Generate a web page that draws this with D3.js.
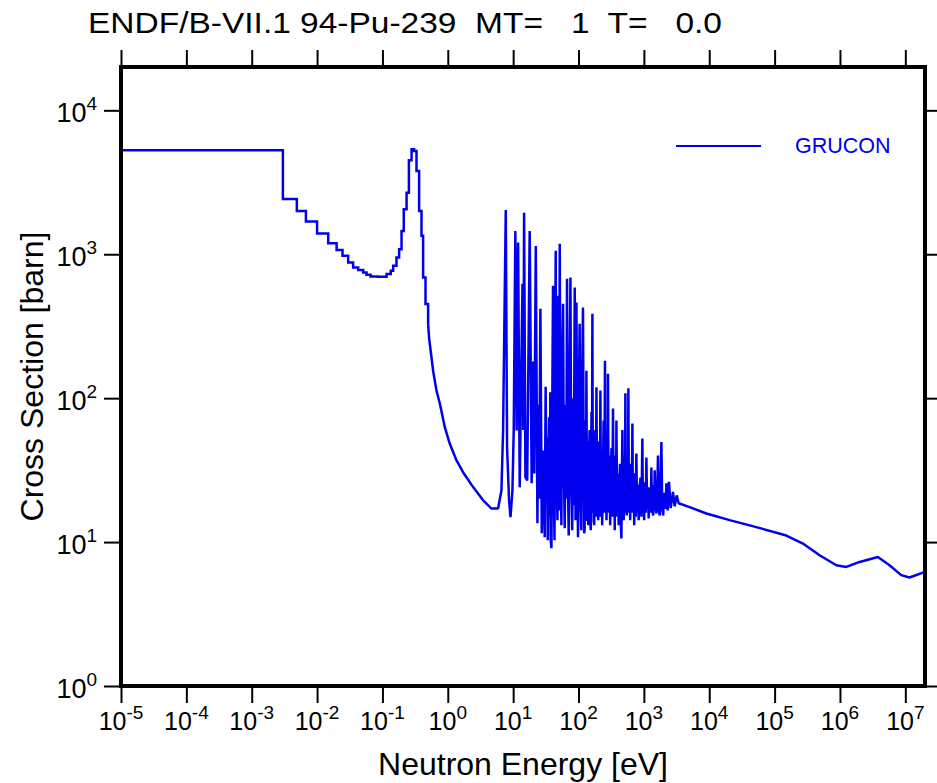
<!DOCTYPE html>
<html>
<head>
<meta charset="utf-8">
<script src="https://cdn.jsdelivr.net/npm/d3@7"></script>
<style>
  body { margin: 0; background: #fff; }
  text { font-family: "Liberation Sans", Arial, sans-serif; }
</style>
</head>
<body>
<div id="chart"></div>
<script>
// chart texts
var titleText = "ENDF/B-VII.1 94-Pu-239  MT=   1  T=   0.0";
var xTitle = "Neutron Energy [eV]";
var yTitle = "Cross Section [barn]";
var seriesName = "GRUCON";

// tick exponents (decades)
var xExponents = [-5, -4, -3, -2, -1, 0, 1, 2, 3, 4, 5, 6, 7];
var yExponents = [0, 1, 2, 3, 4];

// thermal group structure: group lower edge [eV] and cross section [barn]
var groupEnergy = [1e-5, 3.0e-3, 4.9e-3, 6.75e-3, 1.0e-2, 1.48e-2, 1.99e-2, 2.45e-2, 2.99e-2,
  3.56e-2, 4.25e-2, 5.07e-2, 5.71e-2, 6.58e-2, 8.5e-2, 0.1156, 0.134, 0.146, 0.164, 0.180,
  0.196, 0.212, 0.234, 0.254, 0.279, 0.305, 0.332, 0.364, 0.396, 0.419, 0.456, 0.5];
var groupXS = [5270, 2420, 2000, 1686, 1392, 1194, 1072, 975, 876, 809, 776, 747, 720, 700,
  697, 728, 767, 831, 949, 1085, 1453, 2055, 2680, 4495, 5355, 5213, 3787, 2000, 1342, 689,
  451, 327];

// resolved resonance and fast region [eV], [barn]
var resEnergy = [
  0.5, 0.518, 0.596, 0.671, 0.755, 0.90, 1.07, 1.36, 1.71, 2.44,
  3.47, 4.66, 5.88, 6.62, 7.01, 7.71, 8.07, 8.65, 9.10, 9.75,
  10.2, 10.8, 11.3, 11.9, 12.6, 13.9, 14.3, 14.7, 15.4, 16.4,
  17.9, 19.2, 20.3, 21.0, 22.2, 23.5, 24.3, 25.0, 26.1, 27.4,
  28.8, 30.4, 31.4, 32.3, 33.0, 33.8, 35.4, 36.4, 37.0, 37.5,
  38.5, 40.7, 41.8, 42.9, 43.8, 44.8, 46.0, 47.6, 49.3, 50.4,
  51.6, 53.0, 54.7, 56.0, 58.0, 59.5, 61.5, 63.5, 65.0, 66.7,
  68.5, 70.8, 73.0, 75.2, 77.5, 80.1, 82.5, 84.5, 87.5, 90.0,
  92.9, 95.5, 98.2, 101, 104, 107, 110, 113, 117, 120,
  122, 124, 126, 128, 130, 132, 134, 136, 138, 141,
  144, 148, 151, 154, 156, 158, 160, 163, 165, 168,
  171, 174, 177, 181, 184, 188, 191, 194, 197, 200,
  204, 208, 212, 216, 219, 223, 226, 230, 236, 242,
  248, 254, 257, 261, 264, 268, 271, 275, 278, 282,
  287, 293, 299, 305, 312, 320, 328, 337, 342, 347,
  352, 358, 363, 369, 374, 380, 388, 396, 404, 412,
  422, 432, 442, 453, 461, 469, 475, 480, 485, 491,
  498, 505, 513, 521, 527, 533, 540, 546, 554, 562,
  570, 579, 588, 597, 607, 617, 628, 640, 653, 667,
  678, 690, 700, 711, 724, 738, 752, 767, 783, 800,
  816, 832, 860, 890, 918, 948, 964, 980, 995, 1010,
  1030, 1050, 1070, 1092, 1115, 1140, 1160, 1183, 1210, 1240,
  1270, 1303, 1320, 1340, 1387, 1420, 1440, 1462, 1510, 1560,
  1600, 1644, 1690, 1746, 1800, 1853, 1910, 1974, 2030, 2090,
  2150, 2208, 2312, 2421, 2570, 2786, 2958, 3175, 3404, 5012,
  9036, 20500, 52500, 151000, 271000, 488000, 878000, 1.25e6, 2.0e6, 3.8e6,
  5.73e6, 8.65e6, 1.16e7, 2e7];
var resXS = [
  327, 260, 155, 113, 91.8, 62.9, 48.4, 36.9, 30.6, 24.1,
  19.5, 17.1, 17.1, 22.9, 59.6, 2032, 45.7, 19.5, 14.9, 22.9,
  59.6, 1453, 59.6, 1205, 24.0, 623, 60, 1946, 28.3, 26.8,
  1453, 25.6, 180, 30, 1143, 13.5, 90, 20, 418, 11.5,
  43.3, 10.8, 120, 20, 53.6, 10.3, 73.7, 15, 110, 10.3,
  9.06, 604, 25, 10.3, 200, 1056, 30, 14.2, 515, 16.6,
  1181, 40, 13.1, 150, 453, 35, 12.5, 90, 20, 675,
  30, 11.1, 130, 689, 25, 12.1, 100, 18, 588, 14.2,
  462, 40, 10.8, 90, 329, 20, 12.1, 110, 427, 30,
  11.5, 12.1, 45, 70, 14, 155, 30, 20, 50, 13.1,
  35, 60, 14, 12.1, 40, 80, 16, 386, 40, 25,
  14, 13.1, 45, 60, 15, 119, 30, 20, 45, 14.2,
  35, 50, 15, 113, 30, 18, 40, 13.1, 30, 70,
  16, 182, 30, 20, 40, 14.2, 35, 60, 16, 148,
  30, 18, 40, 13.1, 30, 45, 15, 84.7, 25, 16,
  35, 12.1, 28, 40, 15, 70, 22, 16, 30, 13.1,
  25, 35, 14, 10.6, 30, 60, 20, 18, 30, 14.2,
  25, 40, 16, 108, 25, 18, 28, 15.3, 26, 35,
  16, 117, 24, 17, 30, 14.2, 25, 35, 16, 66.7,
  22, 16, 26, 13.1, 24, 30, 15, 41.3, 20, 16,
  25, 14.2, 24, 28, 15, 52.5, 20, 16, 24, 14.2,
  22, 26, 16, 38.7, 20, 17, 24, 14.6, 22, 24,
  16, 33.0, 20, 17, 15.3, 25, 17, 31.5, 17, 15.8,
  22, 40.0, 17, 15.3, 24, 49.5, 17, 15.3, 22, 21,
  17, 25.6, 16.6, 26.2, 17.2, 22.3, 17.7, 21.1, 18.6, 17.5,
  15.8, 14.2, 12.7, 11.1, 9.77, 8.10, 6.90, 6.72, 7.28, 7.88,
  6.90, 5.89, 5.67, 6.21];

var svgWidth = 937;
var svgHeight = 783;
var margin = { top: 67, right: 12, bottom: 97, left: 121 };
var width = svgWidth - margin.left - margin.right;
var height = svgHeight - margin.top - margin.bottom;
var lineColor = "#0000ee";

var svg = d3.select("#chart")
  .append("svg")
  .attr("width", svgWidth)
  .attr("height", svgHeight);

var chartGroup = svg.append("g")
  .attr("transform", `translate(${margin.left}, ${margin.top})`);

var xScale = d3.scaleLog().domain([1e-5, 2e7]).range([0, width]);
var yScale = d3.scaleLog().domain([1, 2e4]).range([height, 0]);

var xTicks = xExponents.map(p => Math.pow(10, p));
var yTicks = yExponents.map(p => Math.pow(10, p));

// axes, all ticks point outward
function styleAxis(g) {
  g.select(".domain").remove();
  g.selectAll(".tick line").attr("stroke", "#000").attr("stroke-width", 2);
  g.selectAll(".tick text").remove();
}

chartGroup.append("g")
  .attr("transform", `translate(0, ${height})`)
  .call(d3.axisBottom(xScale).tickValues(xTicks).tickSize(17).tickSizeOuter(0))
  .call(styleAxis);
chartGroup.append("g")
  .call(d3.axisTop(xScale).tickValues(xTicks).tickSize(17).tickSizeOuter(0))
  .call(styleAxis);
chartGroup.append("g")
  .call(d3.axisLeft(yScale).tickValues(yTicks).tickSize(17).tickSizeOuter(0))
  .call(styleAxis);
chartGroup.append("g")
  .attr("transform", `translate(${width}, 0)`)
  .call(d3.axisRight(yScale).tickValues(yTicks).tickSize(17).tickSizeOuter(0))
  .call(styleAxis);

// tick labels with superscript exponents
xExponents.forEach(function(p) {
  var t = chartGroup.append("text")
    .attr("x", xScale(Math.pow(10, p)))
    .attr("y", height + 44)
    .attr("text-anchor", "middle")
    .style("font-size", "25px");
  t.append("tspan").text("10");
  t.append("tspan").attr("dy", -11).style("font-size", "19px").text(p);
});

yExponents.forEach(function(p) {
  var t = chartGroup.append("text")
    .attr("x", -24)
    .attr("y", yScale(Math.pow(10, p)) + 12)
    .attr("text-anchor", "end")
    .style("font-size", "27px");
  t.append("tspan").text("10");
  t.append("tspan").attr("dy", -12).style("font-size", "19px").text(p);
});

// curve
var line = d3.line()
  .x(d => xScale(d[0]))
  .y(d => yScale(d[1]));

chartGroup.append("path")
  .datum(groupEnergy.map((e, i) => [e, groupXS[i]]))
  .attr("fill", "none")
  .attr("stroke", lineColor)
  .attr("stroke-width", 2.5)
  .attr("d", line.curve(d3.curveStepAfter));

chartGroup.append("path")
  .datum(resEnergy.map((e, i) => [e, resXS[i]]))
  .attr("fill", "none")
  .attr("stroke", lineColor)
  .attr("stroke-width", 2.5)
  .attr("stroke-linejoin", "bevel")
  .attr("d", line.curve(d3.curveLinear));

// frame
chartGroup.append("rect")
  .attr("width", width)
  .attr("height", height)
  .attr("fill", "none")
  .attr("stroke", "#000")
  .attr("stroke-width", 4);

// legend
chartGroup.append("line")
  .attr("x1", 555).attr("x2", 640)
  .attr("y1", 79).attr("y2", 79)
  .attr("stroke", lineColor)
  .attr("stroke-width", 2);
chartGroup.append("text")
  .attr("x", 674)
  .attr("y", 86)
  .attr("fill", lineColor)
  .style("font-size", "21.5px")
  .text(seriesName);

// titles
svg.append("text")
  .attr("x", 88)
  .attr("y", 33)
  .attr("textLength", 634)
  .attr("lengthAdjust", "spacingAndGlyphs")
  .style("white-space", "pre")
  .style("font-size", "30px")
  .text(titleText);

svg.append("text")
  .attr("x", margin.left + width / 2)
  .attr("y", 775)
  .attr("text-anchor", "middle")
  .style("font-size", "32px")
  .text(xTitle);

svg.append("text")
  .attr("transform", `translate(43, ${margin.top + height / 2}) rotate(-90)`)
  .attr("text-anchor", "middle")
  .style("font-size", "32px")
  .text(yTitle);
</script>
</body>
</html>
